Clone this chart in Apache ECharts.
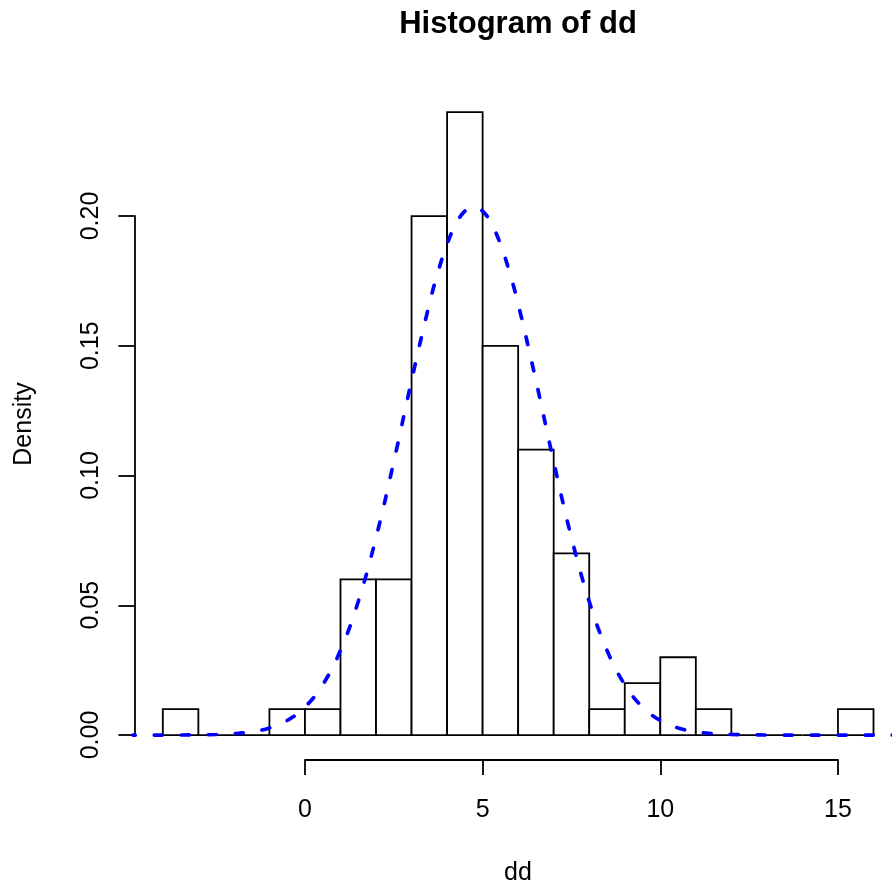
<!DOCTYPE html>
<html>
<head>
<meta charset="utf-8">
<script src="https://cdn.jsdelivr.net/npm/echarts@6/dist/echarts.min.js"></script>
<style>
html,body{margin:0;padding:0;background:#fff;}
#chart{width:892px;height:886px;}
</style>
</head>
<body>
<div id="chart"></div>
<script>
// Histogram bins (edges) and densities
var binEdges = [-4,-3,-2,-1,0,1,2,3,4,5,6,7,8,9,10,11,12,13,14,15,16];
var densities = [0.01,0,0,0.01,0.01,0.06,0.06,0.20,0.24,0.15,0.11,0.07,0.01,0.02,0.03,0.01,0,0,0,0.01];
// Density curve
var curveX = [-5,-4.5,-4,-3.5,-3,-2.5,-2,-1.5,-1,-0.5,0,0.5,1,1.5,2,2.5,3,3.5,3.75,4,4.25,4.5,4.75,5,5.25,5.5,5.75,6,6.5,7,7.5,8,8.5,9,9.5,10,10.5,11,11.5,12,12.5,13,13.5,14,14.5,15,15.5,16,16.5,17];
var curveY = [0.000001,0.000003,0.00001,0.00003,0.00008,0.00022,0.00054,0.00126,0.00275,0.00563,0.01079,0.01939,0.03265,0.05147,0.07606,0.1053,0.1366,0.1661,0.1787,0.1892,0.1970,0.2019,0.2035,0.2019,0.1970,0.1892,0.1787,0.1661,0.1366,0.1053,0.07606,0.05147,0.03265,0.01939,0.01079,0.00563,0.00275,0.00126,0.00054,0.00022,0.00008,0.00003,0.00001,0.000003,0,0,0,0,0,0];
var xTicks = [0,5,10,15];
var yTicks = [0,0.05,0.10,0.15,0.20];
var titleText = 'Histogram of dd';
var xLabel = 'dd';
var yLabel = 'Density';

var FONT = '"Liberation Sans", Arial, Helvetica, sans-serif';
var chart = echarts.init(document.getElementById('chart'), null, {renderer:'canvas'});

var barData = [];
for (var i = 0; i < densities.length; i++) barData.push([binEdges[i], binEdges[i+1], densities[i]]);
var lineData = curveX.map(function(x,i){return [x, curveY[i]];});

var plotLeft = 134.4, plotTop = 87.3, plotBottom = 760, pxPerUnit = 533/15;
var xMin = -4.8, xMax = xMin + (892 - plotLeft) / pxPerUnit;

var option = {
  backgroundColor: '#ffffff',
  animation: false,
  grid: [
    {left: plotLeft, top: plotTop, width: 892 - plotLeft, height: plotBottom - plotTop},
    {left: 305, top: plotTop, width: 533, height: plotBottom - plotTop},
    {left: plotLeft, top: 216, width: 100, height: 519}
  ],
  xAxis: [
    {gridIndex:0, type:'value', min:xMin, max:xMax, show:false},
    {gridIndex:1, type:'value', min:xTicks[0], max:xTicks[xTicks.length-1], interval:5,
     axisLine:{show:true, onZero:false, lineStyle:{color:'#000', width:1.8}},
     axisTick:{show:true, length:15, inside:false, lineStyle:{color:'#000', width:1.8}},
     axisLabel:{show:true, margin:38, fontSize:25, color:'#000', fontFamily:FONT},
     splitLine:{show:false}},
    {gridIndex:2, type:'value', min:0, max:1, show:false}
  ],
  yAxis: [
    {gridIndex:0, type:'value', min:-0.0096, max:0.2496, show:false},
    {gridIndex:1, type:'value', min:0, max:1, show:false},
    {gridIndex:2, type:'value', min:yTicks[0], max:yTicks[yTicks.length-1], interval:0.05,
     axisLine:{show:true, onZero:false, lineStyle:{color:'#000', width:1.8}},
     axisTick:{show:true, length:16, inside:false, lineStyle:{color:'#000', width:1.8}},
     axisLabel:{show:true, rotate:90, margin:31, fontSize:25, color:'#000', fontFamily:FONT,
       formatter:function(v){return v.toFixed(2);}},
     splitLine:{show:false}}
  ],
  series: [
    {
      type:'custom', xAxisIndex:0, yAxisIndex:0, z:2,
      data: barData,
      renderItem: function(params, api){
        var p0 = api.coord([api.value(0), 0]);
        var p1 = api.coord([api.value(1), api.value(2)]);
        return {type:'rect', shape:{x:p0[0], y:p1[1], width:p1[0]-p0[0], height:p0[1]-p1[1]},
          style:{fill:'#ffffff', stroke:'#000000', lineWidth:1.8}};
      }
    },
    {
      type:'line', xAxisIndex:0, yAxisIndex:0, z:5,
      data: lineData, smooth:0.4, showSymbol:false, symbol:'none', clip:true,
      lineStyle:{color:'#0000ff', width:3.7, type:[8,19], cap:'round'}
    }
  ],
  graphic: [
    {type:'text', x:518, y:24, style:{text:titleText, font:'bold 31px '+FONT, fill:'#000', textAlign:'center', textVerticalAlign:'middle'}},
    {type:'text', x:518, y:873, style:{text:xLabel, font:'25px '+FONT, fill:'#000', textAlign:'center', textVerticalAlign:'middle'}},
    {type:'text', x:24, y:424, rotation:Math.PI/2, style:{text:yLabel, font:'25px '+FONT, fill:'#000', textAlign:'center', textVerticalAlign:'middle'}}
  ]
};
chart.setOption(option);
</script>
</body>
</html>
